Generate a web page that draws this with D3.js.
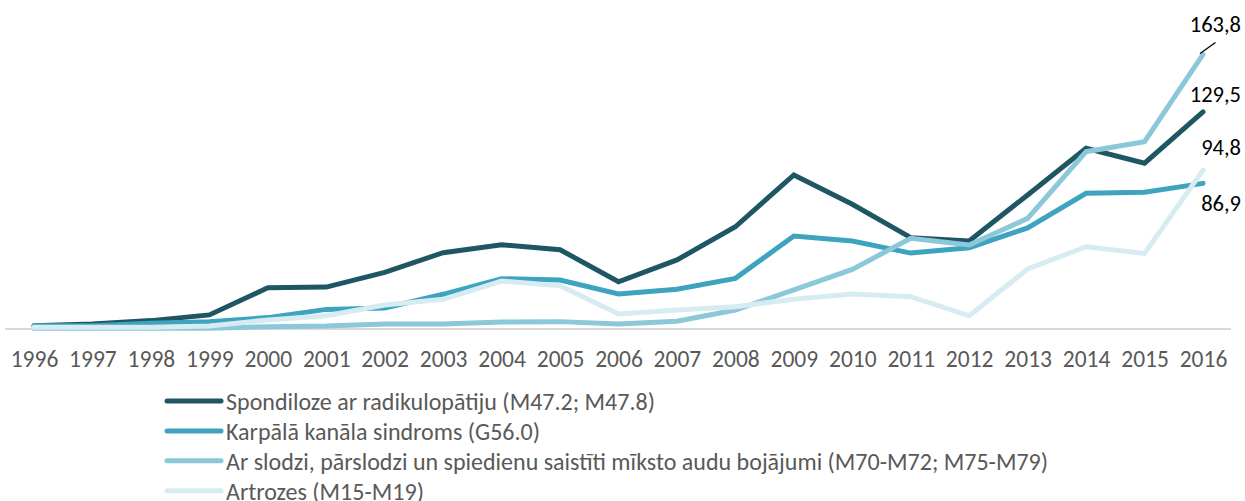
<!DOCTYPE html>
<html>
<head>
<meta charset="utf-8">
<script src="https://cdn.jsdelivr.net/npm/d3@7"></script>
<style>
body{margin:0;background:#fff;}
text{font-family:Carlito,Calibri,Lato,"Open Sans",sans-serif;}
</style>
</head>
<body>
<div id="chart"></div>
<script>
/*Line chart - occupational diseases 1996-2016*/

var years = ["1996","1997","1998","1999","2000","2001","2002","2003","2004","2005","2006","2007","2008","2009","2010","2011","2012","2013","2014","2015","2016"];
var spondiloze = [2,3,5,8.4,24.6,25,33.8,45.5,50.3,47.3,28.2,41.2,61,91.9,74.4,54.5,52.5,80,107.8,98.9,129.5];
var karpala = [2,2,3.5,4.4,6.8,11.7,12.5,20.7,30,29.2,20.9,23.7,30.2,55.5,52.5,45.3,48.5,60.3,81,81.6,86.9];
var slodze = [0.5,0.5,0.5,0.5,1.4,1.8,3,3,4.2,4.4,3,4.6,11.3,23.3,35.6,54.1,50.1,66,105.8,111.8,163.8];
var artrozes = [1,1,1,1.8,5.4,7.9,14.3,17.7,28.6,25.8,8.9,11.3,13.3,17.7,20.9,19.3,7.9,35.8,49.1,45.1,94.8];
var seriesNames = ["Spondiloze ar radikulopātiju (M47.2; M47.8)","Karpālā kanāla sindroms (G56.0)","Ar slodzi, pārslodzi un spiedienu saistīti mīksto audu bojājumi (M70-M72; M75-M79)","Artrozes (M15-M19)"];
var seriesColors = ["#1f5664","#3ea3bf","#8ac8da","#d6ecf2"];
var endLabels = ["129,5","86,9","163,8","94,8"];

var W = 1245, H = 501;
var series = [spondiloze,karpala,slodze,artrozes];

var svg = d3.select("#chart")
.append("svg")
.attr("width",W)
.attr("height",H);

var xScale = d3.scalePoint().domain(years).range([34,1203]);
var yScale = d3.scaleLinear().domain([0,170]).range([329,329-170*1.676]);

// baseline
svg.append("line")
.attr("x1",5).attr("x2",1231)
.attr("y1",yScale(0)).attr("y2",yScale(0))
.attr("stroke","#d9d9d9").attr("stroke-width",2);

// x axis labels
var xAxis = d3.axisBottom(xScale).tickSize(0).tickPadding(0);
var gx = svg.append("g")
.attr("transform","translate(0,367)")
.call(xAxis);
gx.select(".domain").remove();
gx.selectAll("text")
.attr("font-size","23.5px")
.attr("fill","#595959")
.attr("dy","0")
.attr("y",0)
.style("font-family","Carlito,Calibri,Lato,'Open Sans',sans-serif");

var line = d3.line()
.x(function(d,i){return xScale(years[i]);})
.y(function(d){return yScale(d);});

series.forEach(function(s,k){
  svg.append("path")
  .datum(s)
  .attr("d",line)
  .attr("fill","none")
  .attr("stroke",seriesColors[k])
  .attr("stroke-width",5)
  .attr("stroke-linejoin","miter")
  .attr("stroke-linecap","round");
});

// end value labels
var lblY = [101.5,210.5,32.3,155];
var last = years[years.length-1];
series.forEach(function(s,k){
  svg.append("text")
  .attr("x",1241)
  .attr("y",lblY[k])
  .attr("text-anchor","end")
  .attr("font-size","22.5px")
  .attr("fill","#000")
  .text(endLabels[k]);
});
// leader for the top label
svg.append("line")
.attr("x1",xScale(last)-3).attr("y1",yScale(slodze[slodze.length-1])-1)
.attr("x2",xScale(last)+12.5).attr("y2",yScale(slodze[slodze.length-1])-12)
.attr("stroke","#000").attr("stroke-width",1.3);

// legend
var lg = svg.append("g").attr("transform","translate(167,401)");
seriesNames.forEach(function(n,k){
  var gy = k*29.9;
  lg.append("line")
  .attr("x1",0).attr("x2",54)
  .attr("y1",gy).attr("y2",gy)
  .attr("stroke",seriesColors[k])
  .attr("stroke-width",5)
  .attr("stroke-linecap","round");
  lg.append("text")
  .attr("x",59)
  .attr("y",gy+9)
  .attr("font-size","24px")
  .attr("fill","#595959")
  .text(n);
});
</script>
</body>
</html>
